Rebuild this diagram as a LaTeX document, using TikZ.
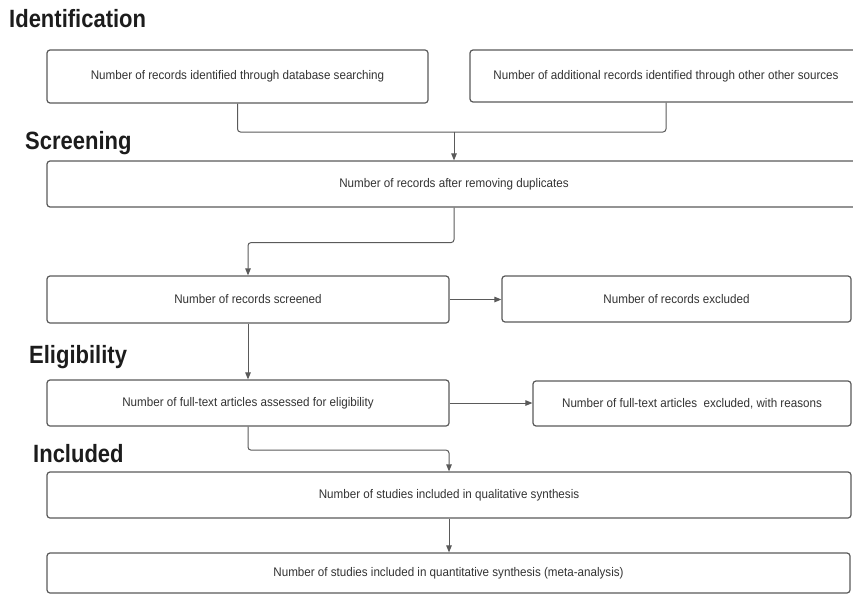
\documentclass[tikz,border=0pt]{standalone}
\usepackage{fontspec}
\setmainfont{Liberation Sans}
\newfontfamily\boxfont[FakeStretch=0.93]{Liberation Sans}
\newfontfamily\headfont[FakeStretch=0.88]{Liberation Sans}
\usetikzlibrary{arrows.meta}
\definecolor{edgegrey}{HTML}{5A5A5A}
\definecolor{txtgrey}{HTML}{333333}
\definecolor{headblack}{HTML}{1C1C1C}
\tikzset{
  flowbox/.style={draw=edgegrey, line width=1.2pt, rounded corners=3pt, fill=white,
    inner sep=0pt, font=\boxfont\fontsize{12.5}{14}\selectfont, text=txtgrey},
  heading/.style={anchor=base west, inner sep=0pt, font=\headfont\bfseries\fontsize{25}{28}\selectfont, text=headblack},
  conn/.style={draw=edgegrey, line width=1pt, rounded corners=3pt},
  arr/.style={conn, -{Triangle[length=7pt,width=5.5pt]}}
}
\begin{document}
\begin{tikzpicture}[x=1pt,y=-1pt]
\useasboundingbox (0,0) rectangle (853,594);
\clip (0,0) rectangle (853,594);
% headings
\node[heading] (hid) at (9,27.5) {Identification};
\node[heading] (hsc) at (25,149.5) {Screening};
\node[heading] (hel) at (29,363) {Eligibility};
\node[heading] (hin) at (33,462) {Included};
% boxes
\node[flowbox, minimum width=381pt, minimum height=53pt] (b1) at (237.5,76.5) {Number of records identified through database searching};
\node[flowbox, minimum width=392pt, minimum height=52pt] (b2) at (666,76) {Number of additional records identified through other other sources};
\node[flowbox, minimum width=814pt, minimum height=46pt] (b3) at (454,184) {Number of records after removing duplicates};
\node[flowbox, minimum width=402pt, minimum height=47pt] (b4) at (248,299.5) {Number of records screened};
\node[flowbox, minimum width=349pt, minimum height=46pt] (b5) at (676.5,299) {Number of records excluded};
\node[flowbox, minimum width=402pt, minimum height=46pt] (b6) at (248,403) {Number of full-text articles assessed for eligibility};
\node[flowbox, minimum width=318pt, minimum height=45pt] (b7) at (692,403.5) {Number of full-text articles\ \ excluded, with reasons};
\node[flowbox, minimum width=804pt, minimum height=46pt] (b8) at (449,495) {Number of studies included in qualitative synthesis};
\node[flowbox, minimum width=803pt, minimum height=40pt] (b9) at (448.5,573) {Number of studies included in quantitative synthesis (meta-analysis)};
% connectors
\coordinate (m1) at (454,132);
\draw[conn] (b1.south) |- (m1);
\draw[conn] (b2.south) |- (m1);
\draw[arr] (m1) -- (b3.north);
\draw[arr] (b3.south) -- ++(0,35) -| (b4.north);
\draw[arr] (b4.east) -- (b4.east -| b5.west);
\draw[arr] (b4.south) -- (b6.north);
\draw[arr] (b6.east) -- (b6.east -| b7.west);
\draw[arr] (b6.south) -- ++(0,23.5) -| (b8.north);
\draw[arr] (b8.south) -- (b8.south |- b9.north);
\end{tikzpicture}
\end{document}
